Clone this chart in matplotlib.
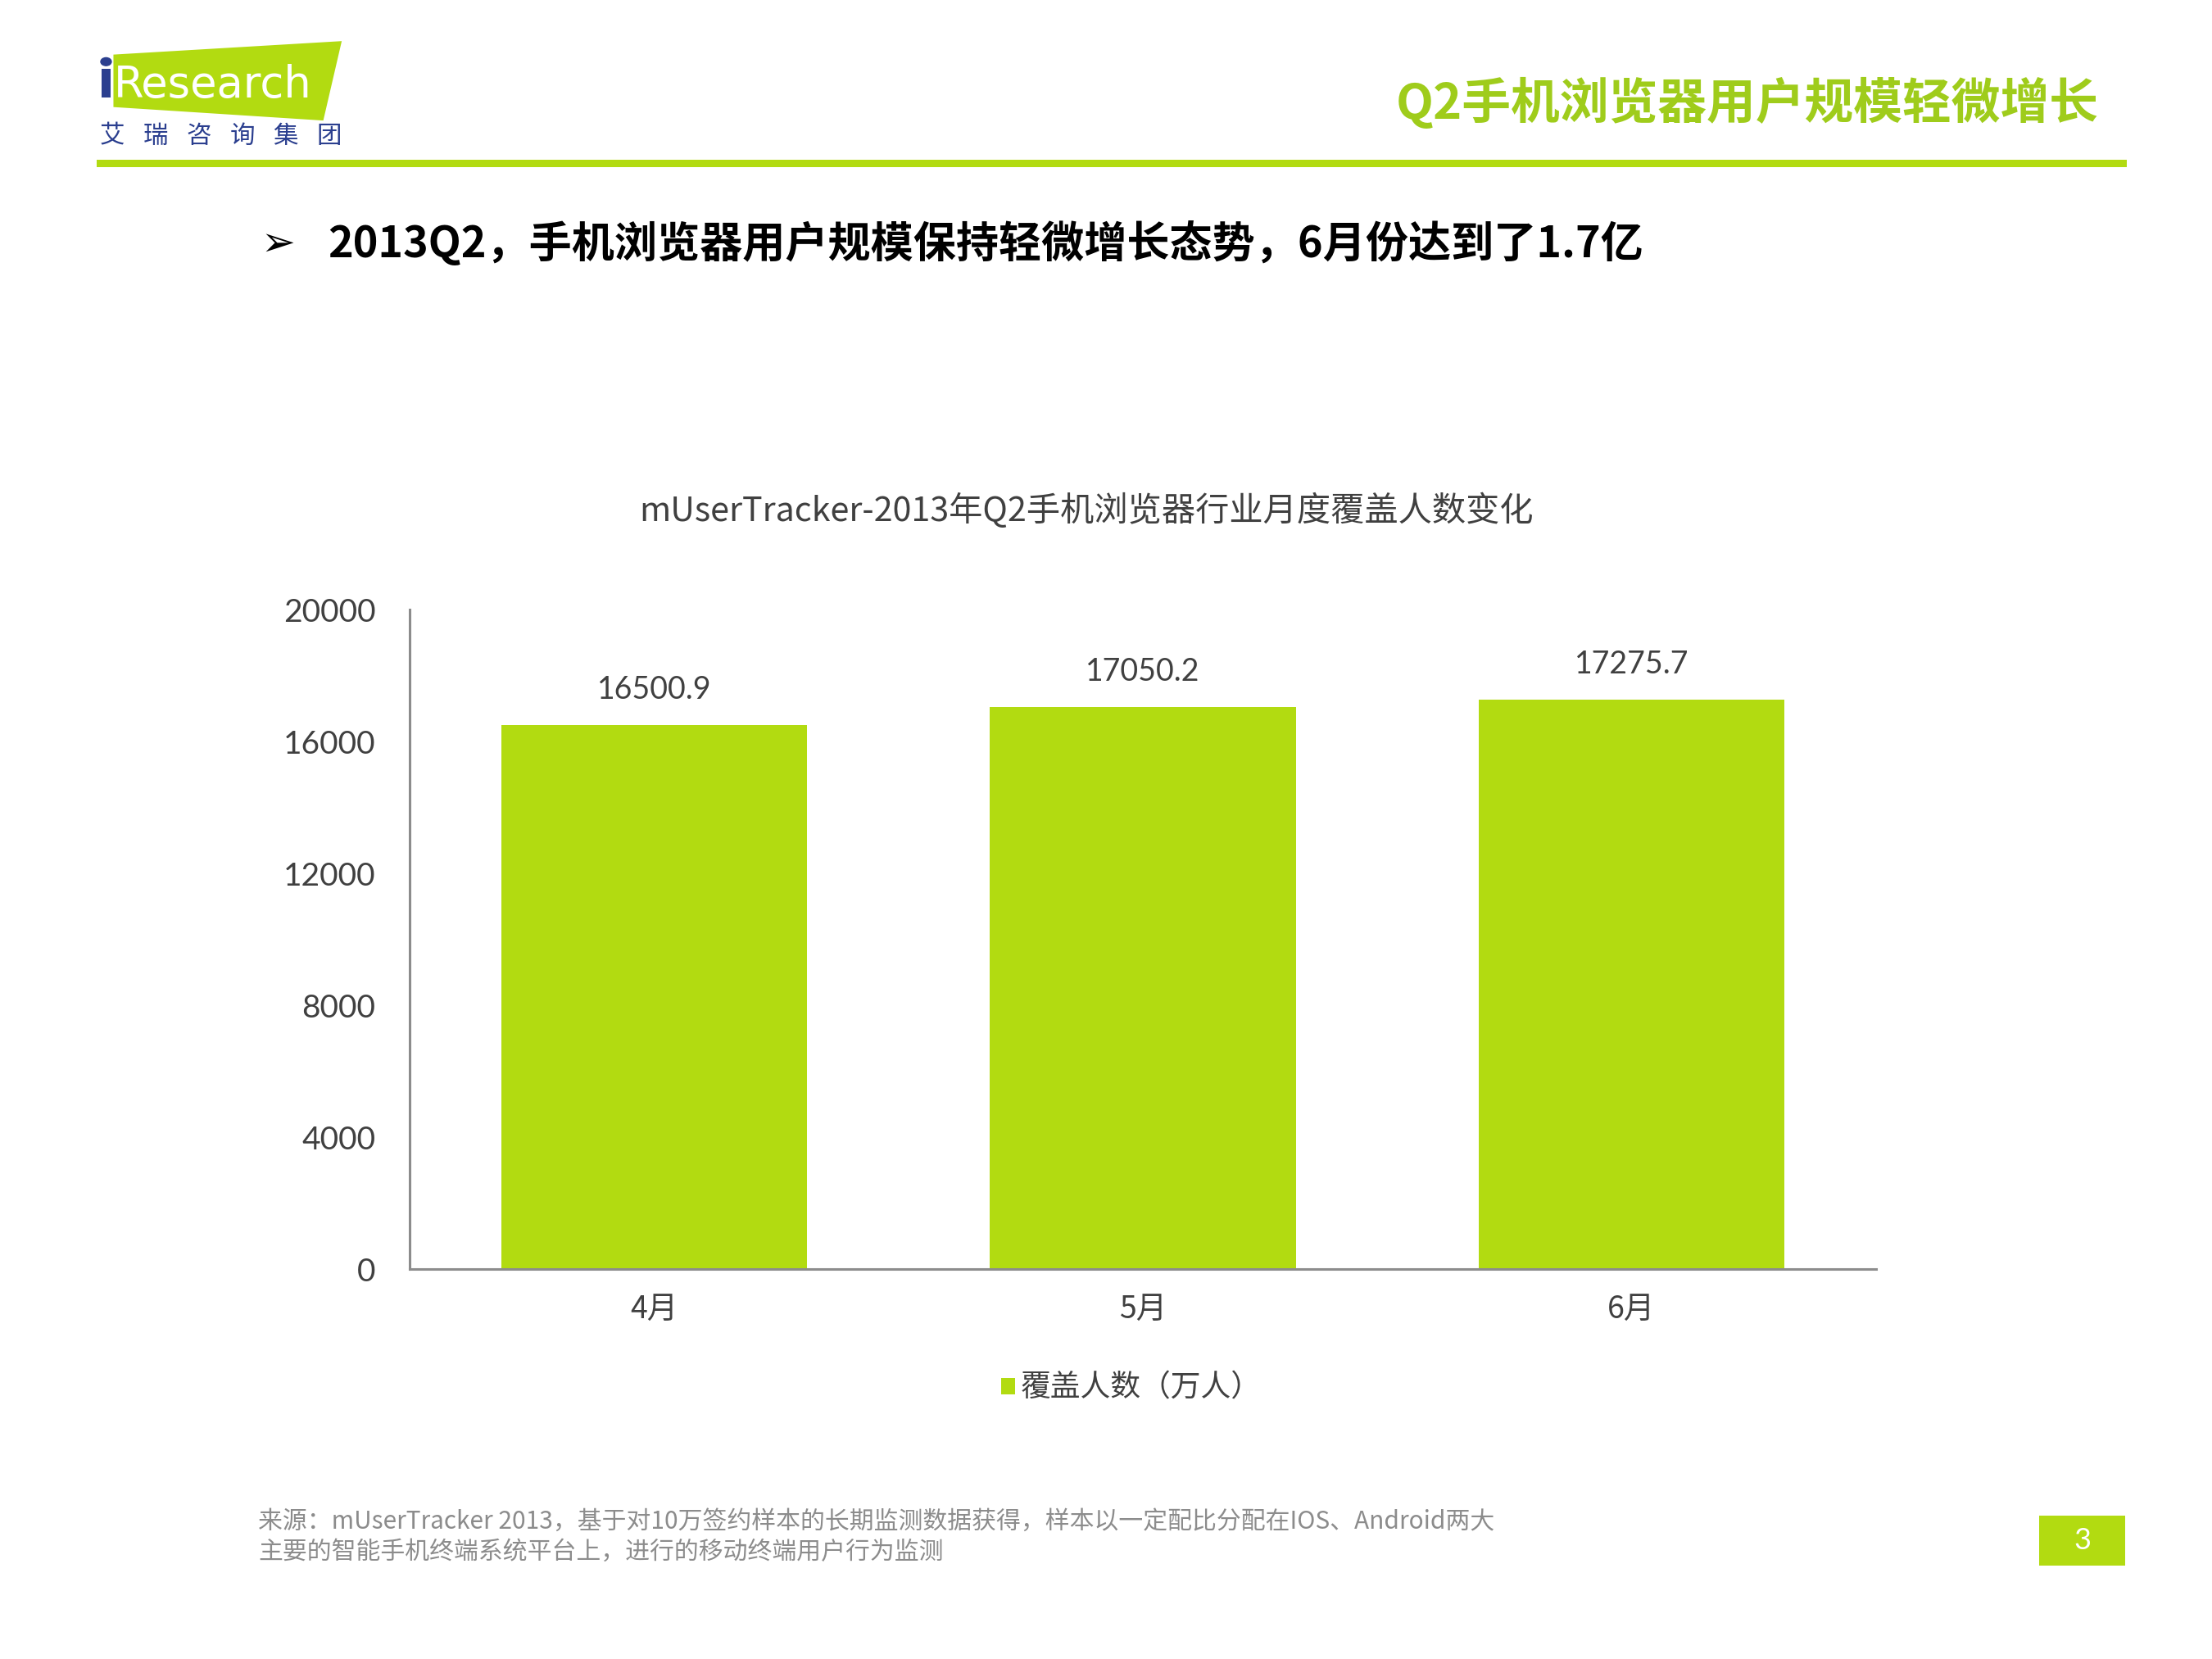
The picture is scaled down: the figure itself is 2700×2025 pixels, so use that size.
import matplotlib
matplotlib.use("Agg")
import matplotlib.pyplot as plt
from matplotlib.patches import Polygon, Rectangle

plt.rcParams['font.family'] = ['Noto Sans CJK SC', 'DejaVu Sans']

# data
months = ['4月', '5月', '6月']
users = [16500.9, 17050.2, 17275.7]
yticks = [0, 4000, 8000, 12000, 16000, 20000]

header_title = 'Q2手机浏览器用户规模轻微增长'
bullet_text = '2013Q2，手机浏览器用户规模保持轻微增长态势，6月份达到了1.7亿'
chart_title = 'mUserTracker-2013年Q2手机浏览器行业月度覆盖人数变化'
legend_label = '覆盖人数（万人）'
source_lines = ['来源：mUserTracker 2013，基于对10万签约样本的长期监测数据获得，样本以一定配比分配在IOS、Android两大',
                '主要的智能手机终端系统平台上，进行的移动终端用户行为监测']
logo_cn = ['艾', '瑞', '咨', '询', '集', '团']

green = '#B2DB11'
head_green = '#9FCC1B'
blue = '#2B3F8F'

W, H = 1560.0, 1170.0  # layout measured on a 1560x1170 grid


def fx(x):
    return x / W


def fy(y):
    return 1 - y / H


fig = plt.figure(figsize=(27, 20.25), dpi=100)

# logo
logo = Polygon([(fx(80), fy(38.5)), (fx(241), fy(29)), (fx(228), fy(85)), (fx(80), fy(75.5))],
               closed=True, facecolor=green, edgecolor='none', transform=fig.transFigure)
fig.add_artist(logo)
fig.add_artist(Rectangle((fx(71.5), fy(68.5)), fx(6.5), 20 / H, facecolor=blue,
                         edgecolor='none', transform=fig.transFigure))
fig.patches.append(plt.Circle((fx(74.8), fy(43.5)), 0.0024, color=blue, transform=fig.transFigure))
fig.text(fx(80), fy(68.5), 'Research', fontsize=38, color='white', family='DejaVu Sans',
         ha='left', va='baseline')
for i, ch in enumerate(logo_cn):
    fig.text(fx(79 + i * 30.6), fy(96), ch, fontsize=22, color=blue, ha='center', va='center')

# header
fig.text(fx(1480), fy(73), header_title, fontsize=43, color=head_green, fontweight='bold',
         ha='right', va='center')
fig.add_artist(Rectangle((fx(68), fy(118)), fx(1500 - 68), 5.5 / H, facecolor=green,
                         edgecolor='none', transform=fig.transFigure))

# bullet
fig.text(fx(184), fy(172), '➢', fontsize=36, family='DejaVu Sans', color='black',
         ha='left', va='center')
fig.text(fx(231), fy(172), bullet_text, fontsize=37.5, fontweight='bold', color='black',
         ha='left', va='center')

# chart
fig.text(fx(766), fy(360), chart_title, fontsize=29.7, color='#404040', ha='center', va='center')

ax = fig.add_axes([fx(289), fy(895), fx(1323 - 289), (895 - 430) / H])
bars = ax.bar(months, users, width=0.626, color=green, label=legend_label)
ax.set_xlim(-0.5, 2.5)
ax.set_ylim(0, 20000)
ax.set_yticks(yticks)
ax.set_yticklabels([str(v) for v in yticks], family='Lato', fontsize=28, color='#404040')
ax.tick_params(axis='y', length=0, pad=30)
ax.tick_params(axis='x', length=0, pad=22, labelsize=27, labelcolor='#404040')
for s in ['top', 'right']:
    ax.spines[s].set_visible(False)
for s in ['left', 'bottom']:
    ax.spines[s].set_color('#8C8C8C')
    ax.spines[s].set_linewidth(2.2)

for b, v in zip(bars, users):
    ax.annotate(f'{v:.1f}', (b.get_x() + b.get_width() / 2, v), xytext=(0, 31),
                textcoords='offset points', ha='center', va='center',
                family='Lato', fontsize=27, color='#404040')

ax.legend(loc='center', bbox_to_anchor=(fx(798), fy(979)), bbox_transform=fig.transFigure,
          frameon=False, fontsize=26.5, handlelength=0.45, handleheight=0.45, handletextpad=0.2,
          labelcolor='#404040')

# footer
for i, line in enumerate(source_lines):
    fig.text(fx(182), fy(1073 + i * 21.5), line, fontsize=21.5, color='#8C8C8C',
             ha='left', va='center')
fig.add_artist(Rectangle((fx(1438), fy(1104)), fx(1499 - 1438), 35 / H, facecolor=green,
                         edgecolor='none', transform=fig.transFigure))
fig.text(fx(1468.5), fy(1086.5), '3', fontsize=26, color='white', family='Lato',
         ha='center', va='center')

fig.savefig('out.png', dpi=100, facecolor='white')
